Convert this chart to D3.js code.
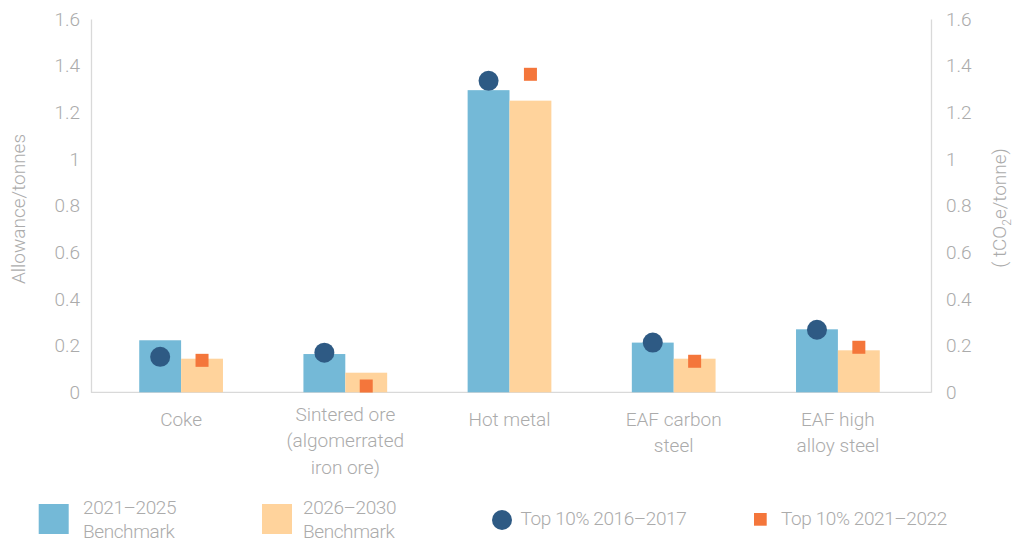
<!DOCTYPE html>
<html>
<head>
<meta charset="utf-8">
<script src="https://cdn.jsdelivr.net/npm/d3@7"></script>
<style>
  body { margin: 0; background: #fff; }
  svg { display: block; }
  text { font-family: Roboto, "Noto Sans", sans-serif; fill: #ABABAB; }
</style>
</head>
<body>
<svg width="1024" height="547"></svg>
<script>
// values (tCO2e per tonne)
var categories = ['Coke', 'Sintered ore', 'Hot metal', 'EAF carbon steel', 'EAF high alloy steel'];
var categoryLines = [
  ['Coke'],
  ['Sintered ore', '(algomerrated', 'iron ore)'],
  ['Hot metal'],
  ['EAF carbon', 'steel'],
  ['EAF high', 'alloy steel']
];
var bench2125 = [0.223, 0.164, 1.295, 0.213, 0.27];
var bench2630 = [0.144, 0.084, 1.25, 0.144, 0.18];
var top1617 = [0.152, 0.17, 1.335, 0.213, 0.268];
var top2122 = [0.137, 0.027, 1.363, 0.133, 0.193];
var yTicks = [0, 0.2, 0.4, 0.6, 0.8, 1, 1.2, 1.4, 1.6];
var barSeries = ['2021\u20132025 Benchmark', '2026\u20132030 Benchmark'];

var blue = '#74B9D7', peach = '#FFD39C', navy = '#2E5A84', orange = '#F4763B';
var axisGrey = '#D9D9D9';

var svg = d3.select('svg'),
  plotLeft = 91,
  plotRight = 931,
  plotBottom = 392.3,
  plotTop = 19;

var x = d3.scaleBand()
  .domain(categories)
  .range([99, 920])
  .paddingInner(0.49)
  .paddingOuter(0.245);

var x1 = d3.scaleBand()
  .domain(barSeries)
  .range([0, x.bandwidth()]);

var y = d3.scaleLinear().domain([0, 1.6]).range([plotBottom, plotTop]);

var fmt = function(d) { return d === 0 ? '0' : String(+d.toFixed(1)); };

// left axis
var gl = svg.append('g')
  .attr('transform', 'translate(' + plotLeft + ',0)')
  .call(d3.axisLeft(y).tickValues(yTicks).tickFormat(fmt).tickSize(0).tickPadding(11));
// right axis
var gr = svg.append('g')
  .attr('transform', 'translate(' + plotRight + ',0)')
  .call(d3.axisRight(y).tickValues(yTicks).tickFormat(fmt).tickSize(0).tickPadding(15));

[gl, gr].forEach(function(g) {
  g.select('.domain').attr('stroke', axisGrey).attr('stroke-width', 1.3);
  g.selectAll('text')
    .attr('fill', '#ABABAB')
    .style('font-family', 'Roboto, sans-serif')
    .style('font-size', '19px')
    .style('font-weight', 300);
});

// baseline
svg.append('line')
  .attr('x1', plotLeft).attr('x2', plotRight)
  .attr('y1', y(0)).attr('y2', y(0))
  .attr('stroke', axisGrey).attr('stroke-width', 1.3);

// category labels
var gb = svg.append('g')
  .attr('transform', 'translate(0,' + y(0) + ')')
  .call(d3.axisBottom(x).tickSize(0).tickFormat(''));
gb.select('.domain').remove();
gb.selectAll('.tick').each(function(d, i) {
  var lines = categoryLines[i];
  var y0 = 27 - (lines.length > 2 ? 5 : 0);
  var t = d3.select(this).append('text')
    .attr('text-anchor', 'middle')
    .attr('fill', '#ABABAB')
    .style('font-size', '19px')
    .style('font-weight', 300);
  lines.forEach(function(s, k) {
    t.append('tspan')
      .attr('x', 0)
      .attr('y', y0 + k * 26.5)
      .attr('dy', '0.35em')
      .text(s);
  });
});

// bars
var groups = svg.append('g').selectAll('g')
  .data(categories)
  .enter()
  .append('g')
  .attr('transform', function(d) { return 'translate(' + x(d) + ',0)'; });

groups.append('rect')
  .attr('x', x1(barSeries[0]))
  .attr('width', x1.bandwidth())
  .attr('y', function(d, i) { return y(bench2125[i]); })
  .attr('height', function(d, i) { return y(0) - y(bench2125[i]); })
  .attr('fill', blue);

groups.append('rect')
  .attr('x', x1(barSeries[1]))
  .attr('width', x1.bandwidth())
  .attr('y', function(d, i) { return y(bench2630[i]); })
  .attr('height', function(d, i) { return y(0) - y(bench2630[i]); })
  .attr('fill', peach);

// markers
groups.append('circle')
  .attr('cx', x1(barSeries[0]) + x1.bandwidth() / 2)
  .attr('cy', function(d, i) { return y(top1617[i]); })
  .attr('r', 10)
  .attr('fill', navy);

var sq = 13;
groups.append('rect')
  .attr('x', x1(barSeries[1]) + x1.bandwidth() / 2 - sq / 2)
  .attr('y', function(d, i) { return y(top2122[i]) - sq / 2; })
  .attr('width', sq)
  .attr('height', sq)
  .attr('fill', orange);

// axis titles
svg.append('text')
  .attr('transform', 'translate(18,209) rotate(-90)')
  .attr('text-anchor', 'middle')
  .attr('dy', '0.35em')
  .style('font-size', '19px')
  .style('font-weight', 300)
  .text('Allowance/tonnes');

var rt = svg.append('text')
  .attr('transform', 'translate(999,208) rotate(-90)')
  .attr('text-anchor', 'middle')
  .attr('dy', '0.35em')
  .style('font-size', '19px')
  .style('font-weight', 300);
rt.append('tspan').text('( tCO');
rt.append('tspan').attr('dy', '5').style('font-size', '12px').text('2');
rt.append('tspan').attr('dy', '-5').text('e/tonne)');

// legend
var lg = svg.append('g')
  .style('font-size', '19px')
  .style('font-weight', 300)
  .style('letter-spacing', '-0.4px');

lg.append('rect').attr('x', 38.7).attr('y', 504).attr('width', 30).attr('height', 30).attr('fill', blue);
lg.append('text').attr('x', 83).attr('y', 507).attr('dy', '0.35em').text('2021\u20132025');
lg.append('text').attr('x', 83).attr('y', 531).attr('dy', '0.35em').text('Benchmark');

lg.append('rect').attr('x', 262).attr('y', 504).attr('width', 30).attr('height', 30).attr('fill', peach);
lg.append('text').attr('x', 303).attr('y', 507).attr('dy', '0.35em').text('2026\u20132030');
lg.append('text').attr('x', 303).attr('y', 531).attr('dy', '0.35em').text('Benchmark');

lg.append('circle').attr('cx', 502).attr('cy', 520).attr('r', 10).attr('fill', navy);
lg.append('text').attr('x', 520.5).attr('y', 518.5).attr('dy', '0.35em').text('Top 10% 2016\u20132017');

lg.append('rect').attr('x', 754).attr('y', 513).attr('width', 12.7).attr('height', 12.7).attr('fill', orange);
lg.append('text').attr('x', 781).attr('y', 518.5).attr('dy', '0.35em').text('Top 10% 2021\u20132022');
</script>
</body>
</html>
